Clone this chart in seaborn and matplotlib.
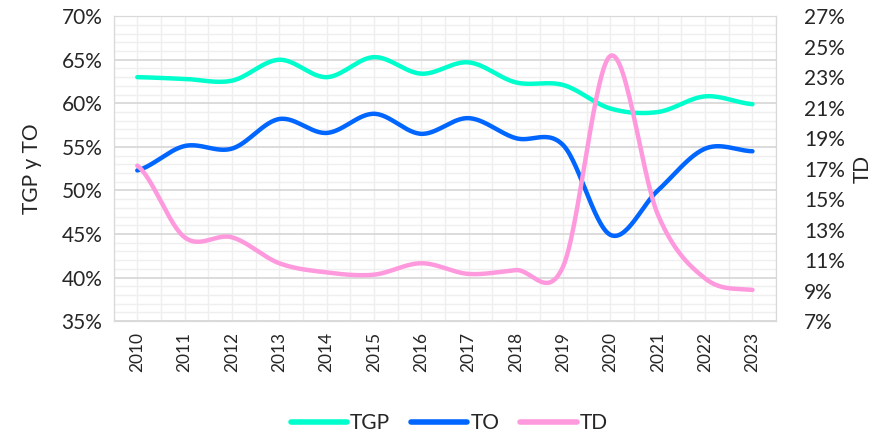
import numpy as np
import pandas as pd
import matplotlib
matplotlib.use('Agg')
import matplotlib.pyplot as plt
from matplotlib.ticker import MultipleLocator, FuncFormatter
from matplotlib.lines import Line2D
import seaborn as sns

years = [2010, 2011, 2012, 2013, 2014, 2015, 2016, 2017, 2018, 2019, 2020, 2021, 2022, 2023]
tgp = [63.0, 62.8, 62.6, 65.0, 63.0, 65.3, 63.4, 64.7, 62.4, 62.1, 59.4, 59.0, 60.8, 59.9]
to = [52.3, 55.1, 54.8, 58.2, 56.6, 58.8, 56.5, 58.3, 56.0, 55.2, 44.9, 50.0, 54.8, 54.5]
td = [17.2, 12.5, 12.5, 10.8, 10.2, 10.05, 10.8, 10.1, 10.35, 10.6, 24.4, 14.0, 9.8, 9.05]

colors = {'TGP': '#00FFCC', 'TO': '#0066FF', 'TD': '#FF99DD'}


def smooth(x, y, n=30):
    # catmull-rom style curve, like excel's smoothed lines
    x = np.asarray(x, float)
    y = np.asarray(y, float)
    xs, ys = [], []
    for i in range(len(x) - 1):
        p0 = y[i - 1] if i > 0 else y[i]
        p3 = y[i + 2] if i + 2 < len(y) else y[i + 1]
        p1, p2 = y[i], y[i + 1]
        t = np.linspace(0, 1, n, endpoint=False)
        c1 = p1 + (p2 - p0) / 6
        c2 = p2 - (p3 - p1) / 6
        seg = (1 - t) ** 3 * p1 + 3 * (1 - t) ** 2 * t * c1 + 3 * (1 - t) * t ** 2 * c2 + t ** 3 * p2
        xs.extend(x[i] + t * (x[i + 1] - x[i]))
        ys.extend(seg)
    xs.append(x[-1])
    ys.append(y[-1])
    return np.array(xs), np.array(ys)


sns.set_style('white')
plt.rcParams['font.family'] = ['Lato', 'DejaVu Sans']

fig = plt.figure(figsize=(8.74, 4.37), dpi=100)
ax = fig.add_axes([0.130, 0.265, 0.758, 0.698])
ax2 = ax.twinx()

for name, vals, a in [('TGP', tgp, ax), ('TO', to, ax), ('TD', td, ax2)]:
    sx, sy = smooth(years, vals)
    df = pd.DataFrame({'x': sx, 'y': sy})
    sns.lineplot(data=df, x='x', y='y', ax=a, color=colors[name], linewidth=3.2,
                 solid_capstyle='round', sort=False)

ax.set_xlim(2009.5, 2023.5)
ax.set_ylim(35, 70)
ax2.set_ylim(7, 27)

ax.xaxis.set_minor_locator(MultipleLocator(0.5))
ax.yaxis.set_major_locator(MultipleLocator(5))
ax.yaxis.set_minor_locator(MultipleLocator(1))
ax2.set_yticks(list(range(7, 28, 2)))

ax.set_xticks(years)
ax.set_xticklabels([str(y) for y in years], rotation=90, fontsize=12.5)
ax.yaxis.set_major_formatter(FuncFormatter(lambda v, p: f'{v:.0f}%'))
ax2.yaxis.set_major_formatter(FuncFormatter(lambda v, p: f'{v:.0f}%'))
ax.tick_params(axis='y', labelsize=15, length=0, pad=8)
ax.tick_params(axis='x', length=0, pad=8, which='both')
ax.tick_params(axis='y', which='minor', length=0)
ax2.tick_params(axis='y', labelsize=15, length=0, pad=20)

ax.grid(True, which='minor', color='#efefef', linewidth=1.0)
ax.grid(True, which='major', axis='x', color='#efefef', linewidth=1.0)
ax.grid(True, which='major', axis='y', color='#d6d6d6', linewidth=1.2)
ax.set_axisbelow(True)
ax2.grid(False)

for a in (ax, ax2):
    for s in a.spines.values():
        s.set_color('#d9d9d9')

ax.set_xlabel('')
ax.set_ylabel('TGP y TO', fontsize=15, labelpad=14)
ax2.set_ylabel('TD', fontsize=15, rotation=90)
ax2.yaxis.set_label_coords(1.115, 0.5)

handles = [Line2D([0], [0], color=colors[k], linewidth=4, solid_capstyle='round') for k in ['TGP', 'TO', 'TD']]
fig.legend(handles, ['TGP', 'TO', 'TD'], loc='center', bbox_to_anchor=(0.514, 0.032), ncol=3,
           frameon=False, fontsize=15, handlelength=2.7, handletextpad=0.15, columnspacing=1.0)

fig.savefig('out.png', dpi=100)
